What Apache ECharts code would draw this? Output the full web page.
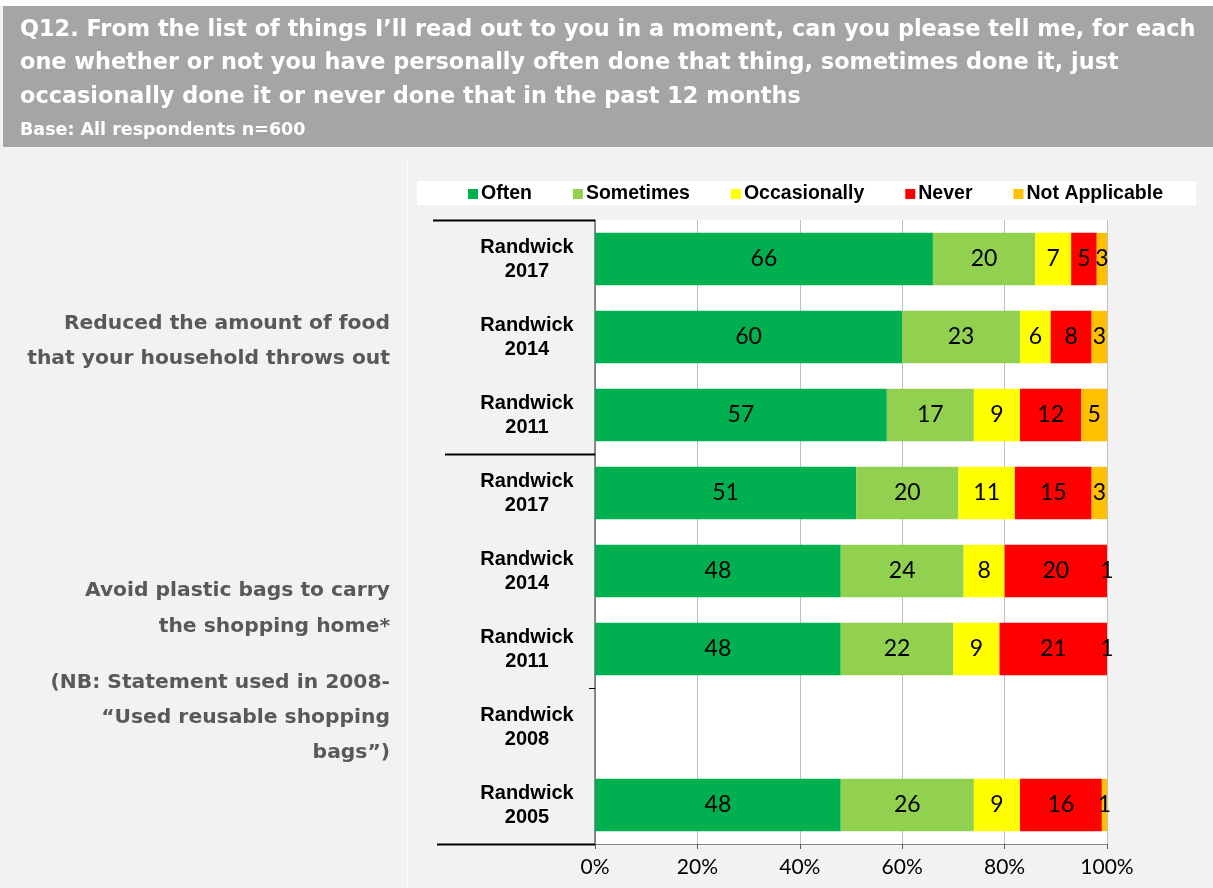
<!DOCTYPE html>
<html>
<head>
<meta charset="utf-8">
<title>Q12 – Randwick</title>
<script src="https://cdn.jsdelivr.net/npm/echarts@6/dist/echarts.min.js"></script>
<style>
  html, body { margin: 0; padding: 0; background: #f2f2f2; }
  #chart { width: 1213px; height: 888px; }
</style>
</head>
<body>
<div id="chart"></div>
<script>
// Survey waves, top to bottom
const categories = [
  'Randwick\n2017', 'Randwick\n2014', 'Randwick\n2011',
  'Randwick\n2017', 'Randwick\n2014', 'Randwick\n2011',
  'Randwick\n2008', 'Randwick\n2005'
];

// Percentages per response (2008 was not asked for this statement)
const often        = [66, 60, 57, 51, 48, 48, null, 48];
const sometimes    = [20, 23, 17, 20, 24, 22, null, 26];
const occasionally = [7, 6, 9, 11, 8, 9, null, 9];
const never        = [5, 8, 12, 15, 20, 21, null, 16];
const notApplicable = [3, 3, 5, 3, 1, 1, null, 1];

const seriesNames = ['Often', 'Sometimes', 'Occasionally', 'Never', 'Not Applicable'];
const seriesColors = ['#00b050', '#92d050', '#ffff00', '#ff0000', '#ffc000'];
const seriesData = [often, sometimes, occasionally, never, notApplicable];

const xTicks = [0, 20, 40, 60, 80, 100];

const headerLines = [
  'Q12. From the list of things I\u2019ll read out to you in a moment, can you please tell me, for each',
  'one whether or not you have personally often done that thing, sometimes done it, just',
  'occasionally done it or never done that in the past 12 months'
];
const baseNote = 'Base: All respondents n=600';

const groupOneLines = ['Reduced the amount of food', 'that your household throws out'];
const groupTwoLines = ['Avoid plastic bags to carry', 'the shopping home*'];
const groupTwoNote = ['(NB: Statement used in 2008-', '\u201cUsed reusable shopping', 'bags\u201d)'];
// Category index where each statement group starts
const groupStarts = [0, 3];

const chart = echarts.init(document.getElementById('chart'), null, { renderer: 'canvas' });

const headFont = 'bold 22.4px "DejaVu Sans", sans-serif';
const groupFont = 'bold 20.3px "DejaVu Sans", sans-serif';

function headerGraphics() {
  const els = [
    { type: 'rect', shape: { x: 0, y: 0, width: 1213, height: 6 }, style: { fill: '#ffffff' }, silent: true },
    { type: 'rect', shape: { x: 3, y: 6, width: 1210, height: 141 }, style: { fill: '#a5a5a5' }, silent: true },
    { type: 'rect', shape: { x: 417, y: 181, width: 779, height: 24 }, style: { fill: '#ffffff' }, silent: true },
    { type: 'line', shape: { x1: 407.5, y1: 160, x2: 407.5, y2: 888 }, style: { stroke: '#fbfbfb', lineWidth: 1 }, silent: true }
  ];
  const lineYs = [30, 63.5, 97];
  headerLines.forEach((t, i) => {
    els.push({ type: 'text', x: 20, y: lineYs[i], silent: true,
      style: { text: t, font: headFont, fill: '#ffffff', textVerticalAlign: 'middle', textAlign: 'left' } });
  });
  els.push({ type: 'text', x: 20, y: 130, silent: true,
    style: { text: baseNote, font: 'bold 17.5px "DejaVu Sans", sans-serif', fill: '#ffffff', textVerticalAlign: 'middle' } });

  const g1 = [324, 359];
  groupOneLines.forEach((t, i) => {
    els.push({ type: 'text', x: 390, y: g1[i], silent: true,
      style: { text: t, font: groupFont, fill: '#595959', textAlign: 'right', textVerticalAlign: 'middle' } });
  });
  const g2 = [591, 627];
  groupTwoLines.forEach((t, i) => {
    els.push({ type: 'text', x: 390, y: g2[i], silent: true,
      style: { text: t, font: groupFont, fill: '#595959', textAlign: 'right', textVerticalAlign: 'middle' } });
  });
  const g3 = [683, 718, 753];
  groupTwoNote.forEach((t, i) => {
    els.push({ type: 'text', x: 390, y: g3[i], silent: true,
      style: { text: t, font: groupFont, fill: '#595959', textAlign: 'right', textVerticalAlign: 'middle' } });
  });
  return els;
}

const option = {
  backgroundColor: '#f2f2f2',
  animation: false,
  legend: {
    left: 468,
    top: 184,
    itemWidth: 10,
    itemHeight: 10,
    itemGap: 41,
    icon: 'rect',
    padding: 0,
    textStyle: { fontFamily: '"Liberation Sans", Arial, sans-serif', fontWeight: 'bold', fontSize: 19.5, color: '#000000', padding: [0, 0, 0, -2] },
    data: seriesNames
  },
  grid: { left: 595, right: 106, top: 220, bottom: 44, containLabel: false,
          show: true, backgroundColor: '#ffffff', borderWidth: 0 },
  xAxis: {
    type: 'value',
    min: xTicks[0],
    max: xTicks[xTicks.length - 1],
    interval: xTicks[1] - xTicks[0],
    axisLine: { show: true, lineStyle: { color: '#868686', width: 1 } },
    axisTick: { show: true, length: 5, lineStyle: { color: '#595959' } },
    splitLine: { show: true, lineStyle: { color: '#bfbfbf', width: 1 } },
    axisLabel: { formatter: '{value}%', fontFamily: 'Lato, sans-serif', fontSize: 21, color: '#000000', margin: 13 }
  },
  yAxis: {
    type: 'category',
    inverse: true,
    data: categories,
    axisLine: { show: true, lineStyle: { color: '#6d6d6d', width: 1.5 } },
    axisTick: { show: false },
    axisLabel: {
      align: 'center',
      margin: 68,
      fontFamily: '"Liberation Sans", Arial, sans-serif',
      fontWeight: 'bold',
      fontSize: 20,
      lineHeight: 24,
      color: '#000000'
    }
  },
  series: seriesNames.map((name, i) => ({
    name: name,
    type: 'bar',
    stack: 'total',
    barCategoryGap: '33%',
    clip: true,
    itemStyle: { color: seriesColors[i] },
    label: {
      show: true,
      position: 'inside',
      fontFamily: 'Lato, sans-serif',
      fontSize: 23,
      color: '#000000'
    },
    data: seriesData[i]
  })),
  graphic: { elements: headerGraphics() }
};

chart.setOption(option);

// Group separators on the category axis, positioned from the axis scale
function separatorGraphics() {
  const els = [];
  const c0 = chart.convertToPixel({ yAxisIndex: 0 }, 0);
  const c1 = chart.convertToPixel({ yAxisIndex: 0 }, 1);
  const band = c1 - c0;
  const axisX = chart.convertToPixel({ xAxisIndex: 0 }, 0);
  const boundary = (idx) => chart.convertToPixel({ yAxisIndex: 0 }, idx) - band / 2;
  const lastEdge = chart.convertToPixel({ yAxisIndex: 0 }, categories.length - 1) + band / 2;
  const starts = [[groupStarts[0], 433], [groupStarts[1], 445]];
  starts.forEach(([idx, x0]) => {
    const y = Math.round(boundary(idx)) + 0.5;
    els.push({ type: 'line', silent: true, z: 10, shape: { x1: x0, y1: y, x2: axisX, y2: y },
      style: { stroke: '#000000', lineWidth: 2 } });
  });
  const yb = Math.round(lastEdge) + 0.5;
  els.push({ type: 'line', silent: true, z: 10, shape: { x1: 437, y1: yb, x2: axisX, y2: yb },
    style: { stroke: '#000000', lineWidth: 2 } });
  // single inner tick before the 2008 wave
  const yt = Math.round(boundary(6)) + 0.5;
  els.push({ type: 'line', silent: true, z: 10, shape: { x1: axisX - 6, y1: yt, x2: axisX, y2: yt },
    style: { stroke: '#000000', lineWidth: 1 } });
  return els;
}

chart.setOption({ graphic: { elements: headerGraphics().concat(separatorGraphics()) } });
</script>
</body>
</html>
